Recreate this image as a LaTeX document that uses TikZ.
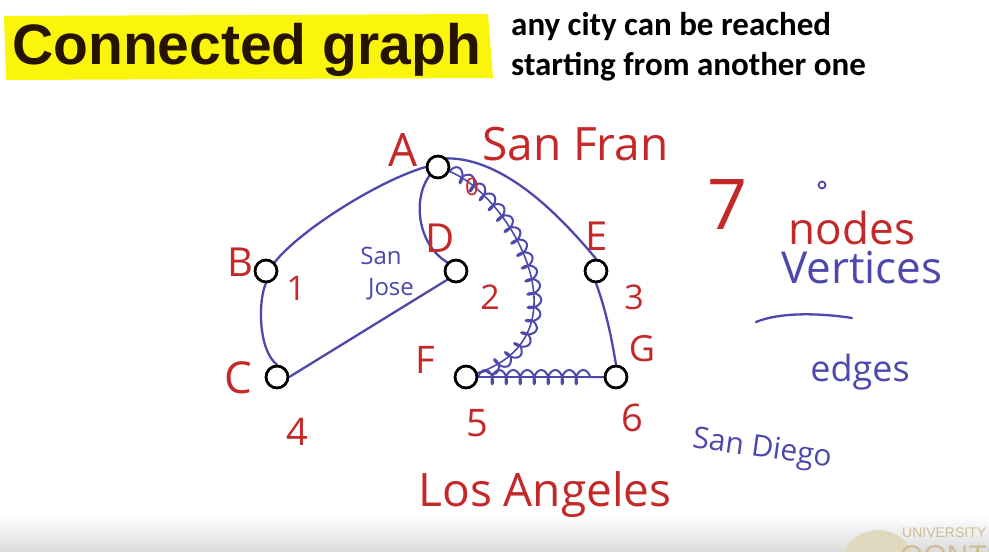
\documentclass[tikz,border=0pt]{standalone}
\usepackage{fontspec}
\setmainfont{Liberation Sans}
\newfontfamily\calfont{Carlito}
\newfontfamily\hand{Open Sans}
\usetikzlibrary{decorations.pathmorphing}
\definecolor{pen red}{RGB}{196,40,40}
\definecolor{pen blue}{RGB}{78,72,172}
\definecolor{hilite}{RGB}{250,245,10}
\definecolor{logo}{RGB}{205,190,150}
\tikzset{
  vert/.style={circle, draw=black, line width=2.5pt, minimum size=22pt, inner sep=0pt},
  edgeline/.style={draw=pen blue, line width=2.3pt, line cap=round},
  wavy/.style={draw=pen blue, line width=2pt, decorate,
    decoration={coil, aspect=0.5, segment length=14pt, amplitude=7pt}},
  redlbl/.style={text=pen red, font=\hand\fontsize{#1}{#1}\selectfont, inner sep=0pt},
  bluelbl/.style={text=pen blue, font=\hand\fontsize{#1}{#1}\selectfont, inner sep=0pt},
}
\begin{document}
\begin{tikzpicture}[x=1pt, y=-1pt]
\useasboundingbox (0,0) rectangle (989,552);
\fill[white] (0,0) rectangle (989,552);
% bottom gray band
\shade[top color=white, bottom color=black!14] (0,515) rectangle (989,552);
\fill[logo!60] (878,568) circle (38pt);
\node[anchor=base west, text=logo, font=\fontsize{14}{14}\selectfont, inner sep=0pt] (uni) at (902,537) {UNIVERSITY O};
\node[anchor=base west, text=logo, font=\fontsize{30}{30}\selectfont, inner sep=0pt] (tor) at (900,566) {OONTO};

% header
\fill[hilite] (4,16) -- (488,14) -- (493,78) -- (6,80) -- cycle;
\node[anchor=base west, inner sep=0pt, font=\bfseries\fontsize{57}{57}\selectfont, text=black!85!orange] (title) at (12,64) {Connected graph};
\node[anchor=base west, inner sep=0pt, font=\calfont\bfseries\fontsize{33}{33}\selectfont] (sub1) at (511,35) {any city can be reached};
\node[anchor=base west, inner sep=0pt, font=\calfont\bfseries\fontsize{33}{33}\selectfont] (sub2) at (511,75) {starting from another one};

% vertices
\node[vert] (A) at (438,167) {};
\node[vert] (B) at (266,271) {};
\node[vert] (D) at (456,271) {};
\node[vert] (E) at (596,271) {};
\node[vert] (C) at (277,377) {};
\node[vert] (F) at (466,377) {};
\node[vert] (G) at (616,377) {};

% edges
\draw[edgeline] (B.north east) .. controls (300,230) and (380,180) .. (A.west);
\draw[edgeline] (B.south) .. controls (258,300) and (258,350) .. (C.north);
\draw[edgeline] (C.east) -- (D.south west);
\draw[edgeline] (A.south west) .. controls (412,200) and (418,245) .. (D.north west);
\draw[edgeline] (A.north east) .. controls (510,158) and (570,228) .. (E.north);
\draw[edgeline] (E.south) .. controls (606,310) and (612,340) .. (G.north);
\draw[edgeline, line width=1.6pt] (A) .. controls (510,195) and (590,335) .. (F);
\draw[wavy] (A) .. controls (510,195) and (590,335) .. (F);
\draw[edgeline, line width=1.6pt] (F) -- (G);
\draw[wavy] (F) -- (G);

% redraw circles on top
\foreach \v in {A,B,C,D,E,F,G} \draw[black, line width=2.5pt] (\v) circle (11pt);

% red labels
\node[redlbl=46] (lA) at (403,150) {A};
\node[redlbl=46, anchor=base west] (lsf) at (482,160) {San Fran};
\node[redlbl=24] (l0) at (472,187) {0};
\node[redlbl=40] (lB) at (240,262) {B};
\node[redlbl=34] (l1) at (296,288) {1};
\node[redlbl=40] (lD) at (440,238) {D};
\node[redlbl=34] (l2) at (490,297) {2};
\node[redlbl=40] (lE) at (597,236) {E};
\node[redlbl=34] (l3) at (634,297) {3};
\node[redlbl=44] (lC) at (238,378) {C};
\node[redlbl=38] (l4) at (297,432) {4};
\node[redlbl=38] (lF) at (425,360) {F};
\node[redlbl=38] (l5) at (477,423) {5};
\node[redlbl=36] (lG) at (642,349) {G};
\node[redlbl=38] (l6) at (632,418) {6};
\node[redlbl=70] (l7) at (728,205) {7};
\node[redlbl=44] (lnodes) at (852,228) {nodes};
\node[redlbl=46] (lLA) at (545,495) {Los Angeles};

% blue labels
\draw[pen blue, line width=1.8pt] (822,185) circle (3.5pt);
\node[bluelbl=44] (lvert) at (862,268) {Vertices};
\draw[pen blue, line width=2.3pt, line cap=round] (756,322) .. controls (780,312) and (820,313) .. (852,318);
\node[bluelbl=36] (ledges) at (860,372) {edges};
\node[bluelbl=30, rotate=-8] (lsd) at (762,450) {San Diego};
\node[bluelbl=24] (lsj1) at (381,256) {San};
\node[bluelbl=24] (lsj2) at (391,289) {Jose};
\end{tikzpicture}
\end{document}
